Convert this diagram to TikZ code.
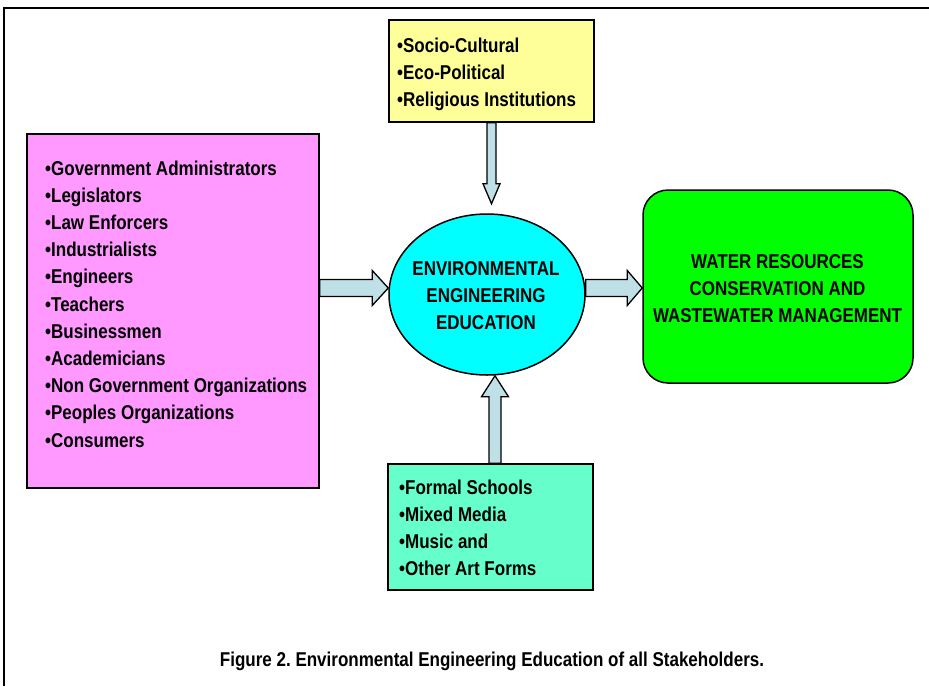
\documentclass[tikz,border=0pt]{standalone}
\usepackage{fontspec}
\setmainfont{Liberation Sans}[FakeStretch=0.85]
\usetikzlibrary{calc,shapes.geometric}

\definecolor{boxyellow}{HTML}{FFFF99}
\definecolor{boxpink}{HTML}{FF99FF}
\definecolor{boxcyan}{HTML}{00FFFF}
\definecolor{boxgreen}{HTML}{00FF00}
\definecolor{boxteal}{HTML}{66FFCC}
\definecolor{arrowblue}{RGB}{190,224,230}

\frenchspacing

\tikzset{
  box/.style={draw=black, line width=1.5pt, inner sep=0pt},
  txt/.style={inner sep=0pt, font=\bfseries\fontsize{20}{27.2}\selectfont},
  arrowbody/.style={fill=arrowblue, draw=black, line width=1.3pt, line join=miter},
}

% Block arrow: #1 start, #2 tip, #3 shaft half-width, #4 head half-width, #5 head length
\newcommand\blockarrow[5]{%
  \path ($(#2)!#5!(#1)$) coordinate (ba-h);
  \filldraw[arrowbody]
    ($(#1)!#3!90:(#2)$) -- ($(ba-h)!#3!-90:(#1)$) -- ($(ba-h)!#4!-90:(#1)$)
    -- (#2)
    -- ($(ba-h)!#4!90:(#1)$) -- ($(ba-h)!#3!90:(#1)$) -- ($(#1)!#3!-90:(#2)$) -- cycle;
}

\begin{document}
\begin{tikzpicture}[x=1pt, y=-1pt]
\useasboundingbox (0,0) rectangle (929,686);
\fill[white] (0,0) rectangle (929,686);

% outer frame
\draw[line width=1.8pt] (4,686) -- (4,8) -- (929,8);

% boxes
\node[box, fill=boxyellow, minimum width=205pt, minimum height=102pt] (social) at (491.5,71) {};
\node[box, fill=boxpink, minimum width=292pt, minimum height=354pt] (stake) at (173,311) {};
\node[box, ellipse, fill=boxcyan, minimum width=196pt, minimum height=161pt] (eee) at (487,294.5) {};
\node[box, rounded corners=25pt, fill=boxgreen, minimum width=270pt, minimum height=193pt] (water) at (778,286.5) {};
\node[box, fill=boxteal, minimum width=205pt, minimum height=126pt] (media) at (490.5,527) {};

% texts
\node[txt, anchor=base west] (social-text) at (397,52) {\begin{tabular}[t]{@{}l@{}}
•Socio-Cultural\\•Eco-Political\\•Religious Institutions\end{tabular}};

\node[txt, anchor=base west] (stake-text) at (45,175) {\begin{tabular}[t]{@{}l@{}}
•Government Administrators\\•Legislators\\•Law Enforcers\\•Industrialists\\
•Engineers\\•Teachers\\•Businessmen\\•Academicians\\
•Non Government Organizations\\•Peoples Organizations\\•Consumers\end{tabular}};

\node[txt, anchor=base] (eee-text) at (486,275) {\begin{tabular}[t]{@{}c@{}}
ENVIRONMENTAL\\ENGINEERING\\EDUCATION\end{tabular}};

\node[txt, anchor=base] (water-text) at (777.5,268) {\begin{tabular}[t]{@{}c@{}}
WATER RESOURCES\\CONSERVATION AND\\WASTEWATER MANAGEMENT\end{tabular}};

\node[txt, anchor=base west] (media-text) at (399,494) {\begin{tabular}[t]{@{}l@{}}
•Formal Schools\\•Mixed Media\\•Music and\\•Other Art Forms\end{tabular}};

\node[txt, anchor=base] (caption) at (492,666) {Figure 2. Environmental Engineering Education of all Stakeholders.};

% connectors
\path ($(social.south)+(0,81)$) coordinate (top-tip);
\blockarrow{social.south}{top-tip}{4.5pt}{8.5pt}{20pt}

\path ($(stake.east)+(0,-23)$) coordinate (left-start);
\path ($(eee.west)+(0,-6.5)$) coordinate (left-tip);
\blockarrow{left-start}{left-tip}{8.5pt}{17.5pt}{16pt}

\path ($(eee.east)+(0,-6.5)$) coordinate (right-start);
\path ($(water.west)+(0,1.5)$) coordinate (right-tip);
\blockarrow{right-start}{right-tip}{8.5pt}{17.5pt}{15pt}

\path ($(media.north)+(4.5,0)$) coordinate (bottom-start);
\path ($(eee.south)+(8,0)$) coordinate (bottom-tip);
\blockarrow{bottom-start}{bottom-tip}{6pt}{13.5pt}{21pt}
\end{tikzpicture}
\end{document}
